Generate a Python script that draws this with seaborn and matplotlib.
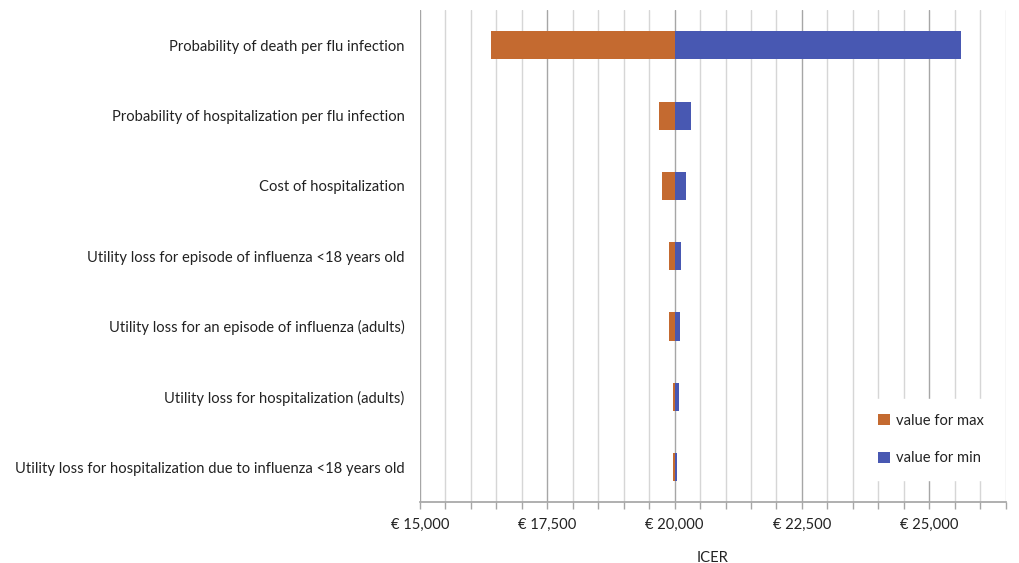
import matplotlib
matplotlib.use("Agg")
import matplotlib.pyplot as plt
import seaborn as sns
import pandas as pd
from matplotlib.ticker import MultipleLocator, FuncFormatter

categories = [
    "Probability of death per flu infection",
    "Probability of hospitalization per flu infection",
    "Cost of hospitalization",
    "Utility loss for episode of influenza <18 years old",
    "Utility loss for an episode of influenza (adults)",
    "Utility loss for hospitalization (adults)",
    "Utility loss for hospitalization due to influenza <18 years old",
]
base_icer = 20000
value_for_max = [16400, 19690, 19760, 19890, 19890, 19960, 19970]
value_for_min = [25620, 20315, 20215, 20130, 20110, 20080, 20040]

orange = "#C46A30"
blue = "#4858B2"

sns.set_theme(style="white")
plt.rcParams["font.family"] = ["Lato", "DejaVu Sans"]

fig = plt.figure(figsize=(10.19, 5.63), dpi=100)
ax = fig.add_axes([0.412, 0.108, 0.575, 0.874])

df = pd.DataFrame({
    "cat": categories * 2,
    "delta": [v - base_icer for v in value_for_max] + [v - base_icer for v in value_for_min],
    "series": ["value for max"] * len(categories) + ["value for min"] * len(categories),
})

for name, col in [("value for max", orange), ("value for min", blue)]:
    sub = df[df["series"] == name]
    sns.barplot(data=sub, x="delta", y="cat", orient="h", color=col, width=0.4,
                saturation=1, left=base_icer, ax=ax, label=name, zorder=3, linewidth=0)

ax.set_xlim(15000, 26500)
ax.set_ylim(6.5, -0.5)
ax.xaxis.set_major_locator(MultipleLocator(2500))
ax.xaxis.set_minor_locator(MultipleLocator(500))
ax.xaxis.set_major_formatter(FuncFormatter(lambda v, p: f"€ {v:,.0f}"))
ax.grid(which="major", axis="x", color="#a6a6a6", linewidth=1.0, zorder=0)
ax.grid(which="minor", axis="x", color="#d6d6d6", linewidth=1.0, zorder=0)
ax.set_axisbelow(True)
for s in ["top", "right", "left"]:
    ax.spines[s].set_visible(False)
ax.spines["bottom"].set_color("#a6a6a6")
ax.tick_params(axis="x", which="both", bottom=True, direction="out", color="#a6a6a6",
               length=5, width=1)
ax.tick_params(axis="x", which="major", labelsize=10.6, labelcolor="#222222", pad=6)
ax.tick_params(axis="y", length=0, labelsize=10.6, labelcolor="#222222", pad=11)
ax.set_ylabel("")
ax.set_xlabel("ICER", fontsize=10.6, color="#222222", labelpad=14)

leg = ax.legend(loc="lower right", bbox_to_anchor=(1.0, 0.03), frameon=True,
                facecolor="white", edgecolor="white", framealpha=1.0,
                fontsize=10.6, labelspacing=1.6, handlelength=0.8, handleheight=0.8,
                handletextpad=0.4, borderpad=1.0)
for t in leg.get_texts():
    t.set_color("#222222")

fig.savefig("out.png", dpi=100, facecolor="white")
